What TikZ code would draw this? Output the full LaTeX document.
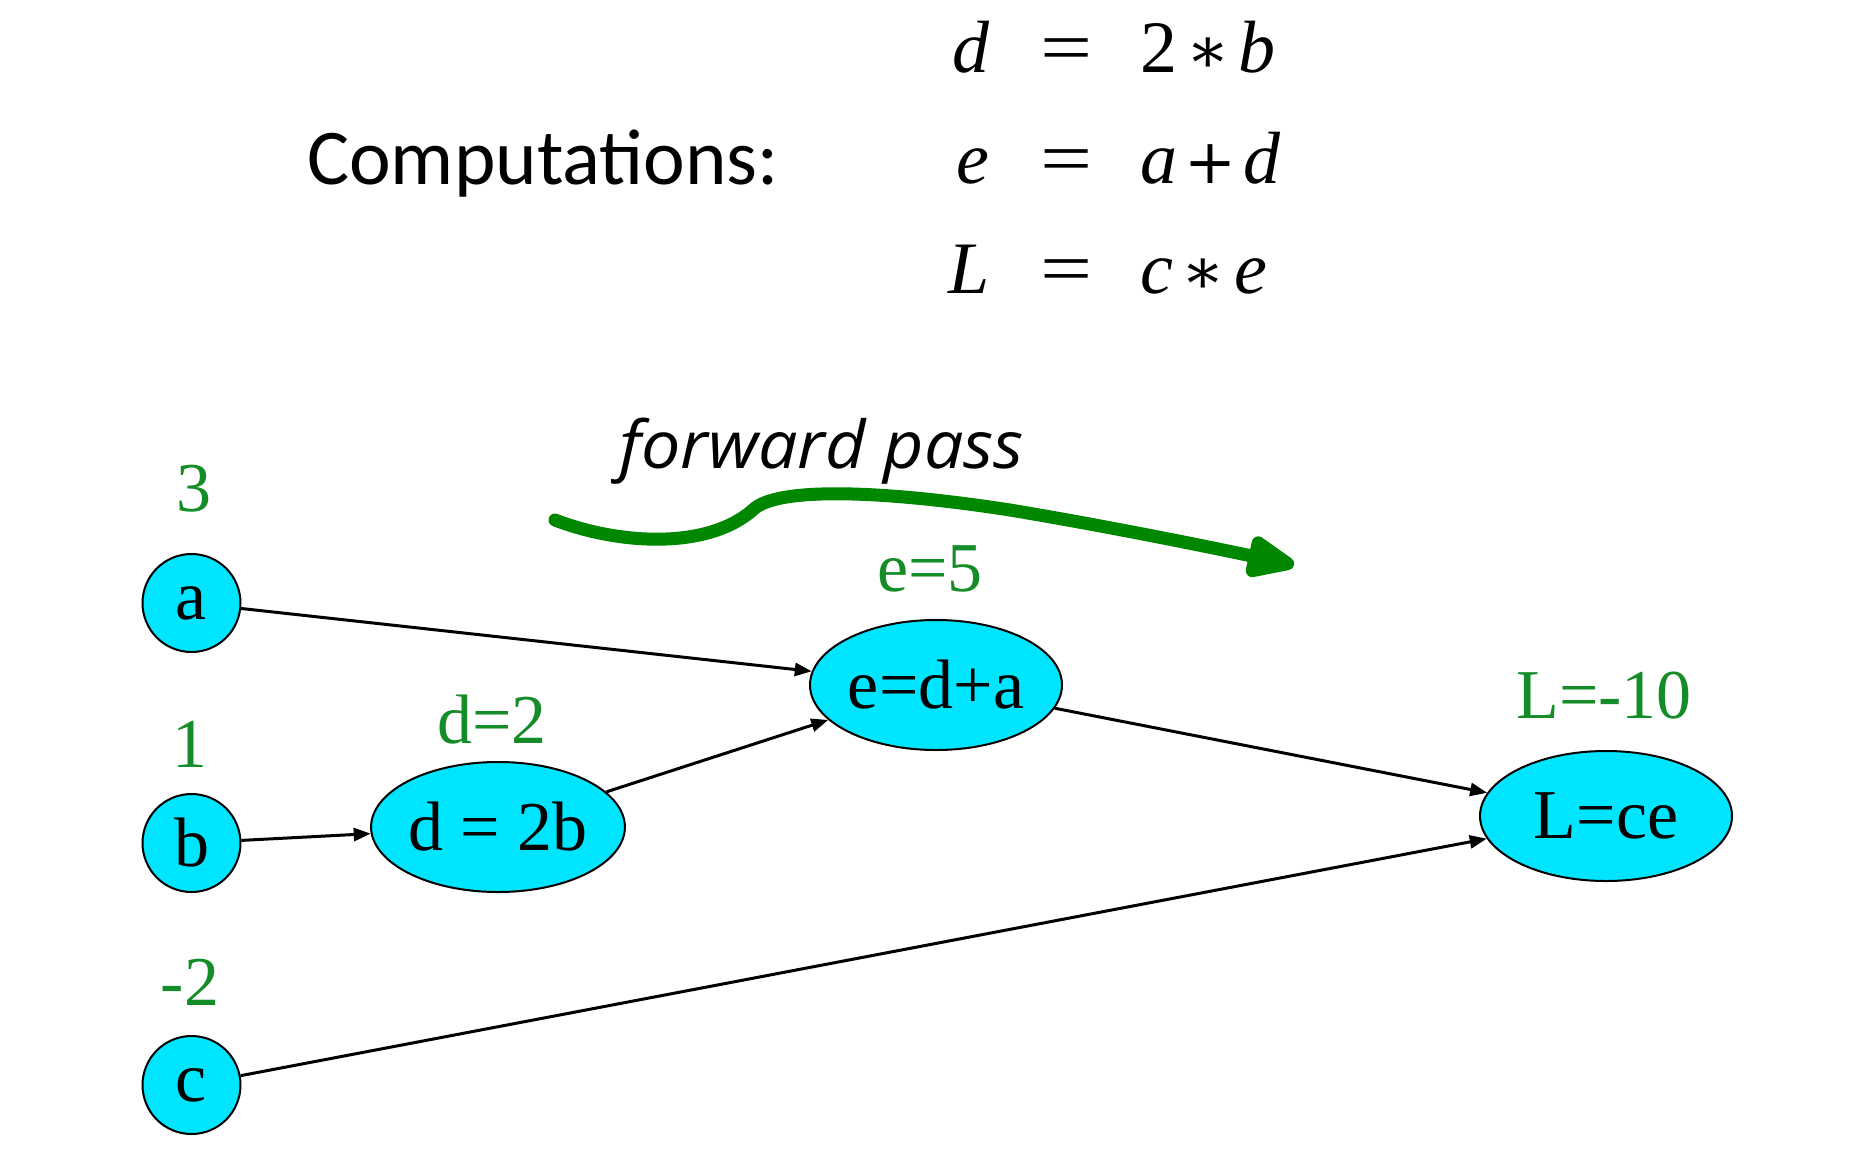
\documentclass[tikz,border=0pt]{standalone}
\usepackage{fontspec}
\setmainfont{Liberation Serif}
\newfontfamily\calib{Carlito}
\newfontfamily\hand{Open Sans}
\newfontfamily\dvs{DejaVu Serif}
\usetikzlibrary{shapes.geometric,arrows.meta}
\definecolor{nodecyan}{RGB}{0,229,255}
\definecolor{valgreen}{RGB}{20,140,40}
\definecolor{arrowgreen}{RGB}{0,135,0}
\newcommand{\opast}{\hspace{0.12em}{\dvs\fontsize{64}{64}\selectfont ∗}\hspace{0.12em}}
\newcommand{\opplus}{\hspace{0.1em}{\dvs\fontsize{62}{62}\selectfont +}\hspace{0.1em}}
\tikzset{
  varnode/.style={circle,draw=black,line width=2pt,fill=nodecyan,minimum size=98pt,inner sep=0pt,font=\fontsize{70}{70}\selectfont},
  opnode/.style={ellipse,draw=black,line width=2pt,fill=nodecyan,minimum width=252pt,minimum height=130pt,inner sep=0pt,font=\fontsize{70}{70}\selectfont},
  val/.style={text=valgreen,anchor=base,inner sep=0pt,font=\fontsize{70}{70}\selectfont},
  edge/.style={line width=3pt,-{Triangle[length=17pt,width=13pt]}},
  eqn/.style={anchor=base,inner sep=0pt,font=\fontsize{74}{74}\selectfont}
}
\begin{document}
\begin{tikzpicture}[x=1pt,y=-1pt]
\useasboundingbox (0,0) rectangle (1865,1148);
% heading and equations
\node[anchor=base west,inner sep=0pt,font=\calib\fontsize{79}{79}\selectfont] (comp) at (307,184) {Computations:};
\node[eqn,anchor=base east] (l1) at (990,73) {\textit{d}};
\node[eqn] (q1) at (1067,73) {\scalebox{1.25}[1]{=}};
\node[eqn,anchor=base west] (r1) at (1140,73) {2\opast\textit{b}};
\node[eqn,anchor=base east] (l2) at (990,183) {\textit{e}};
\node[eqn] (q2) at (1067,183) {\scalebox{1.25}[1]{=}};
\node[eqn,anchor=base west] (r2) at (1140,183) {\textit{a}\opplus\textit{d}};
\node[eqn,anchor=base east] (l3) at (990,293) {\textit{L}};
\node[eqn] (q3) at (1067,293) {\scalebox{1.25}[1]{=}};
\node[eqn,anchor=base west] (r3) at (1140,293) {\textit{c}\opast\textit{e}};
% forward pass
\node[anchor=base west,inner sep=0pt,font=\hand\itshape\fontsize{66}{66}\selectfont] (fp) at (619,468) {\scalebox{1.06}[1]{forward pass}};
\coordinate (fps) at (555,520);
\coordinate (fpe) at (1294,565);
\draw[arrowgreen,line width=13pt,line cap=round,-{Triangle[length=58pt,width=44pt,round=false]}]
  (fps) .. controls (620,545) and (710,550) .. (755,508)
  .. controls (785,485) and (900,493) .. (1010,510)
  .. controls (1100,525) and (1200,545) .. (fpe);
% nodes
\node[varnode] (a) at (191.5,603) {a};
\node[varnode] (b) at (191.5,843) {b};
\node[varnode] (c) at (191.5,1085) {c};
\node[opnode] (d) at (498,827) {d = 2b};
\node[opnode] (e) at (936,685) {e=d+a};
\node[opnode] (L) at (1606,816) {L=ce};
% values
\node[val] (va) at (194,511) {3};
\node[val] (vb) at (190,767) {1};
\node[val] (vc) at (190,1005) {-2};
\node[val] (vd) at (492,743) {d=2};
\node[val] (ve) at (930,591) {e=5};
\node[val] (vL) at (1604,718) {L=-10};
% edges
\draw[edge] (a) -- (e);
\draw[edge] (b) -- (d);
\draw[edge] (d) -- (e);
\draw[edge] (e) -- (L);
\draw[edge] (c) -- (L);
\end{tikzpicture}
\end{document}
